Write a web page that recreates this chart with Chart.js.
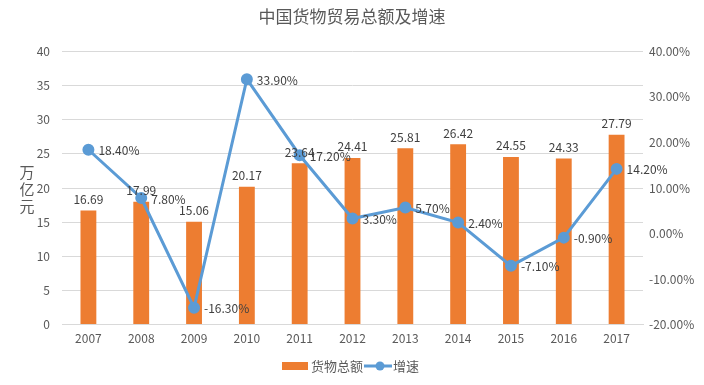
<!DOCTYPE html>
<html><head><meta charset="utf-8">
<script src="https://cdn.jsdelivr.net/npm/chart.js@4"></script>
<style>html,body{margin:0;padding:0;background:#fff}#wrap{width:704px;height:385px}</style>
</head><body><div id="wrap"><canvas id="c" width="704" height="385"></canvas></div>
<script>
const categories = ['2007','2008','2009','2010','2011','2012','2013','2014','2015','2016','2017'];
const tradeTotal = [16.69,17.99,15.06,20.17,23.64,24.41,25.81,26.42,24.55,24.33,27.79];
const growthRate = [18.40,7.80,-16.30,33.90,17.20,3.30,5.70,2.40,-7.10,-0.90,14.20];
const seriesNames = ['货物总额','增速'];
const titleText = '中国货物贸易总额及增速';
const yAxisTitle = ['万','亿','元'];

const FONT = '"Noto Sans CJK SC","Noto Sans",sans-serif';
const ORANGE = '#ED7D31', BLUE = '#5B9BD5', TXT = '#595959';

const labelPlugin = {
  id: 'labels',
  afterDatasetsDraw(chart) {
    const ctx = chart.ctx;
    ctx.save();
    ctx.font = '12px ' + FONT;
    ctx.fillStyle = '#404040';
    const bm = chart.getDatasetMeta(0);
    bm.data.forEach((el, i) => {
      ctx.textAlign = 'center'; ctx.textBaseline = 'bottom';
      ctx.fillText(tradeTotal[i].toFixed(2), el.x, el.y - 5);
    });
    const lm = chart.getDatasetMeta(1);
    lm.data.forEach((el, i) => {
      ctx.textAlign = 'left'; ctx.textBaseline = 'middle';
      ctx.fillText(growthRate[i].toFixed(2).replace(/0$/, '') .replace(/\.(\d)$/, '.$10') + '%', el.x + 10, el.y + 1);
    });
    // y axis title stacked
    ctx.font = '15px ' + FONT;
    ctx.fillStyle = TXT;
    ctx.textAlign = 'center'; ctx.textBaseline = 'middle';
    yAxisTitle.forEach((ch, k) => ctx.fillText(ch, 27, 172 + k * 17));
    // legend
    const ly = 366;
    ctx.fillStyle = ORANGE;
    ctx.fillRect(282, ly - 4, 26, 8);
    ctx.font = '13px ' + FONT;
    ctx.fillStyle = TXT;
    ctx.textAlign = 'left';
    ctx.fillText(seriesNames[0], 311, ly);
    ctx.strokeStyle = BLUE; ctx.lineWidth = 3;
    ctx.beginPath(); ctx.moveTo(364, ly); ctx.lineTo(392, ly); ctx.stroke();
    ctx.fillStyle = BLUE;
    ctx.beginPath(); ctx.arc(380, ly, 4.5, 0, Math.PI * 2); ctx.fill();
    ctx.fillStyle = TXT;
    ctx.fillText(seriesNames[1], 393, ly);
    ctx.restore();
  }
};

new Chart(document.getElementById('c'), {
  data: {
    labels: categories,
    datasets: [
      { type: 'bar', label: seriesNames[0], data: tradeTotal, backgroundColor: ORANGE, yAxisID: 'y', barPercentage: 0.6, categoryPercentage: 0.5, order: 2 },
      { type: 'line', label: seriesNames[1], data: growthRate, borderColor: BLUE, backgroundColor: BLUE, borderWidth: 3, pointRadius: 4.5, pointHoverRadius: 4.5, tension: 0, yAxisID: 'y1', order: 1 }
    ]
  },
  options: {
    responsive: false,
    animation: false,
    layout: { padding: { left: 0, right: 0, top: 0, bottom: 32 } },
    plugins: {
      legend: { display: false },
      tooltip: { enabled: false },
      title: { display: true, text: titleText, color: TXT, font: { family: FONT, size: 17, weight: 'normal' }, padding: { top: 6, bottom: 25 } }
    },
    scales: {
      x: {
        grid: { display: false, drawTicks: false },
        border: { display: true, color: '#d9d9d9' },
        ticks: { color: TXT, font: { family: FONT, size: 12 }, padding: 7 }
      },
      y: {
        position: 'left', min: 0, max: 40,
        afterFit(s) { s.width = 62; },
        grid: { color: '#d9d9d9', drawTicks: false },
        border: { display: false },
        ticks: { stepSize: 5, color: TXT, font: { family: FONT, size: 12 }, padding: 12 }
      },
      y1: {
        position: 'right', min: -20, max: 40,
        afterFit(s) { s.width = 61; },
        grid: { display: false, drawTicks: false },
        border: { display: false },
        ticks: { stepSize: 10, color: TXT, font: { family: FONT, size: 12 }, padding: 6, callback: v => v.toFixed(2) + '%' }
      }
    }
  },
  plugins: [labelPlugin]
});
</script></body></html>
